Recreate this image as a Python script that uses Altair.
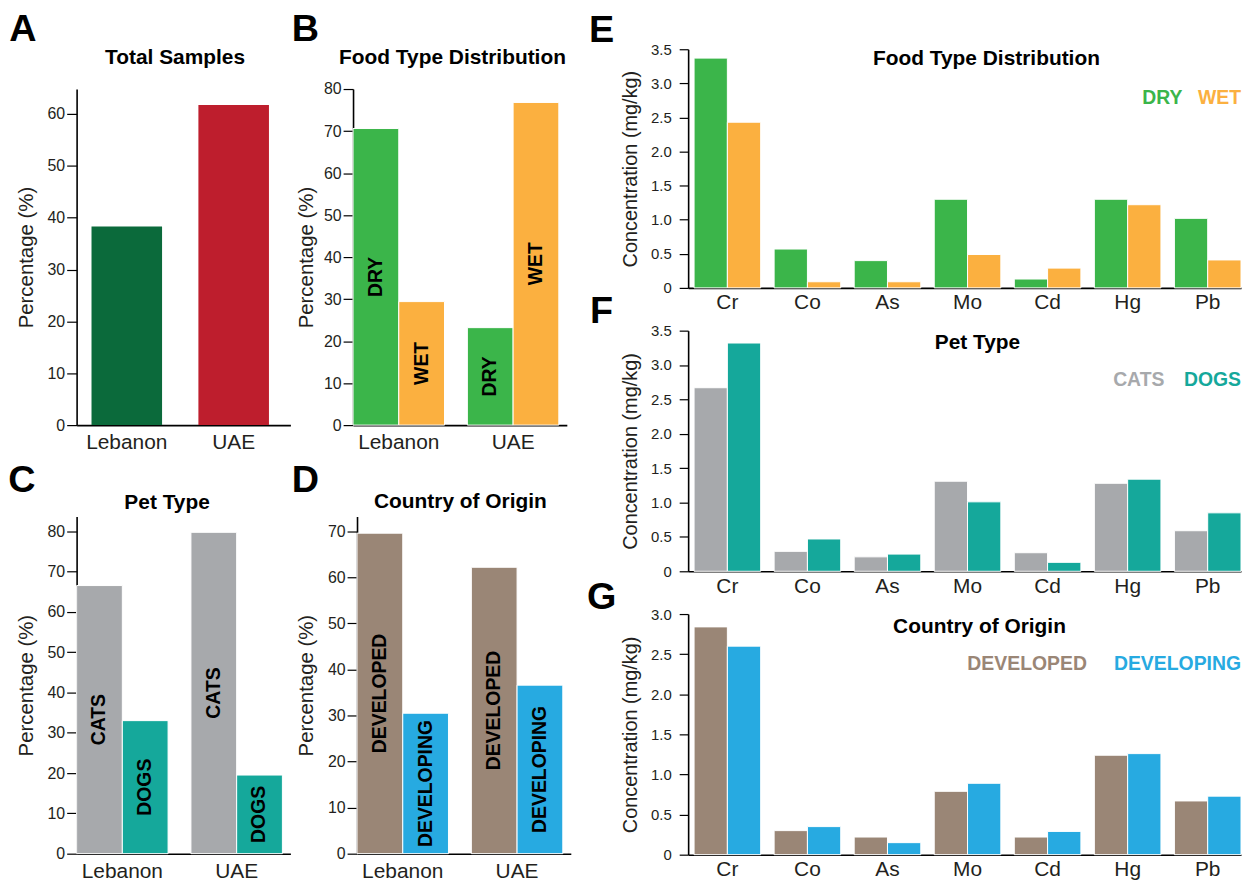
import altair as alt
import pandas as pd

FONT = "Liberation Sans, Arial, Helvetica, sans-serif"

# ---------------- data ----------------
countries = ["Lebanon", "UAE"]
total_pct = [38.3, 61.7]

food_types = ["DRY", "WET"]
food_lebanon = [70.6, 29.4]
food_uae = [23.2, 76.8]

pet_types = ["CATS", "DOGS"]
pet_lebanon = [66.5, 33.0]
pet_uae = [79.7, 19.5]

origin_types = ["DEVELOPED", "DEVELOPING"]
origin_lebanon = [69.6, 30.5]
origin_uae = [62.2, 36.6]

metals = ["Cr", "Co", "As", "Mo", "Cd", "Hg", "Pb"]
conc_dry = [3.37, 0.57, 0.40, 1.30, 0.13, 1.30, 1.02]
conc_wet = [2.43, 0.09, 0.09, 0.49, 0.29, 1.22, 0.41]
conc_cats = [2.67, 0.29, 0.21, 1.31, 0.27, 1.28, 0.59]
conc_dogs = [3.32, 0.47, 0.25, 1.01, 0.13, 1.34, 0.85]
conc_developed = [2.84, 0.30, 0.22, 0.79, 0.22, 1.24, 0.67]
conc_developing = [2.60, 0.35, 0.15, 0.89, 0.29, 1.26, 0.73]

country_colors = ["#0b6a3b", "#be1e2d"]
food_colors = ["#3bb54a", "#fbb040"]
pet_colors = ["#a7a9ac", "#15a89b"]
origin_colors = ["#9a8676", "#27aae1"]

TITLE_SIZE = 21
LETTER_SIZE = 38
INNER_SIZE = 19.5


def text_layer(txt, dx, dy, size, weight="bold", color="black", align="center"):
    return alt.Chart(pd.DataFrame({"t": [txt]})).mark_text(
        font=FONT, fontSize=size, fontWeight=weight, color=color,
        align=align, baseline="middle"
    ).encode(x=alt.value(dx), y=alt.value(dy), text="t:N")


def pct_xaxis():
    return alt.Axis(labelFontSize=21, labelPadding=7, ticks=False, labelAngle=0)


def pct_yaxis(values, title_pad):
    return alt.Axis(values=values, labelFontSize=16, tickSize=10, labelPadding=2,
                    titleFontSize=20.5, titlePadding=title_pad)


def panel_a():
    df = pd.DataFrame({"country": countries, "pct": total_pct})
    bars = alt.Chart(df).mark_bar().encode(
        x=alt.X("country:N", sort=countries, title=None, axis=pct_xaxis(),
                scale=alt.Scale(paddingInner=0.34, paddingOuter=0.17, align=0.41)),
        y=alt.Y("pct:Q", title="Percentage (%)",
                scale=alt.Scale(domain=[0, 64.8], nice=False),
                axis=pct_yaxis([0, 10, 20, 30, 40, 50, 60], 11)),
        color=alt.Color("country:N", scale=alt.Scale(domain=countries, range=country_colors), legend=None),
    )
    return alt.layer(
        bars,
        text_layer("Total Samples", 99, -31, TITLE_SIZE),
        text_layer("A", -54, -59, LETTER_SIZE),
    ).properties(width=215, height=338)


def panel_group(types, leb, uae, colors, title, letter, ymax, ticks, height,
                title_dx, title_dy, letter_dx, letter_dy, title_pad):
    df = pd.DataFrame({
        "country": [countries[0]] * 2 + [countries[1]] * 2,
        "type": types * 2,
        "pct": leb + uae,
    })
    df["half"] = df["pct"] / 2
    x = alt.X("country:N", sort=countries, title=None, axis=pct_xaxis(),
              scale=alt.Scale(paddingInner=0.2, paddingOuter=0.035, align=0))
    xo = alt.XOffset("type:N", sort=types)
    base = alt.Chart(df)
    bars = base.mark_bar(stroke="white", strokeWidth=1).encode(
        x=x, xOffset=xo,
        y=alt.Y("pct:Q", title="Percentage (%)",
                scale=alt.Scale(domain=[0, ymax], nice=False),
                axis=pct_yaxis(ticks, title_pad)),
        color=alt.Color("type:N", scale=alt.Scale(domain=types, range=colors), legend=None),
    )
    labels = base.mark_text(font=FONT, fontSize=INNER_SIZE, fontWeight="bold", color="black",
                            angle=270, align="center", baseline="middle").encode(
        x=x, xOffset=xo, y=alt.Y("half:Q"), text="type:N")
    return alt.layer(
        bars, labels,
        text_layer(title, title_dx, title_dy, TITLE_SIZE),
        text_layer(letter, letter_dx, letter_dy, LETTER_SIZE),
    ).properties(width=215, height=height)


def panel_metal(v1, v2, names, colors, title, letter, ymax, ticks, height,
                title_dx, title_dy, letter_dy, leg1_right, leg_dy):
    df = pd.DataFrame({
        "metal": metals * 2,
        "grp": [names[0]] * len(metals) + [names[1]] * len(metals),
        "val": v1 + v2,
    })
    bars = alt.Chart(df).mark_bar(stroke="white", strokeWidth=1).encode(
        x=alt.X("metal:N", sort=metals, title=None,
                axis=alt.Axis(labelFontSize=21, labelPadding=4, ticks=False, labelAngle=0),
                scale=alt.Scale(paddingInner=0.168, paddingOuter=0.037, align=1)),
        xOffset=alt.XOffset("grp:N", sort=names),
        y=alt.Y("val:Q", title="Concentration (mg/kg)",
                scale=alt.Scale(domain=[0, ymax], nice=False),
                axis=alt.Axis(values=ticks, tickSize=9, labelPadding=8, labelFontSize=15,
                              titleFontSize=20, titlePadding=10,
                              labelExpr="datum.value == 0 ? '0' : format(datum.value, '.1f')")),
        color=alt.Color("grp:N", scale=alt.Scale(domain=names, range=colors), legend=None),
    )
    return alt.layer(
        bars,
        text_layer(title, title_dx, title_dy, TITLE_SIZE),
        text_layer(letter, -87, letter_dy, LETTER_SIZE),
        text_layer(names[0], leg1_right, leg_dy, INNER_SIZE, color=colors[0], align="right"),
        text_layer(names[1], 556, leg_dy, INNER_SIZE, color=colors[1], align="right"),
    ).properties(width=556, height=height)


A = panel_a()
B = panel_group(food_types, food_lebanon, food_uae, food_colors, "Food Type Distribution", "B",
                80, [0, 10, 20, 30, 40, 50, 60, 70, 80], 338, 100, -31, -48, -59, 7)
C = panel_group(pet_types, pet_lebanon, pet_uae, pet_colors, "Pet Type", "C",
                83.6, [0, 10, 20, 30, 40, 50, 60, 70, 80], 339, 91, -14, -55, -36, 11)
D = panel_group(origin_types, origin_lebanon, origin_uae, origin_colors, "Country of Origin", "D",
                73.2, [0, 10, 20, 30, 40, 50, 60, 70], 339, 104, -15, -52, -36, 11)

E = panel_metal(conc_dry, conc_wet, food_types, food_colors, "Food Type Distribution", "E",
                3.5, [0, 0.5, 1, 1.5, 2, 2.5, 3, 3.5], 240, 300, 10, -18, 497, 49)
F = panel_metal(conc_cats, conc_dogs, pet_types, pet_colors, "Pet Type", "F",
                3.5, [0, 0.5, 1, 1.5, 2, 2.5, 3, 3.5], 242, 291, 12, -19, 479, 50)
G = panel_metal(conc_developed, conc_developing, origin_types, origin_colors, "Country of Origin", "G",
                3.0, [0, 0.5, 1, 1.5, 2, 2.5, 3], 242, 293, 13, -16, 401, 50)

# invisible 1x1 spacer that lifts the right-hand column relative to the left one
spacer = alt.Chart(pd.DataFrame({"s": [0]})).mark_point(opacity=0).encode(
    x=alt.value(0), y=alt.value(0)).properties(width=1, height=1)

IND = dict(color="independent", xOffset="independent")

row_ab = alt.hconcat(A, B, spacing=63, bounds="flush").resolve_scale(**IND)
row_cd = alt.hconcat(C, D, spacing=67, bounds="flush").resolve_scale(**IND)
left = alt.vconcat(row_ab, row_cd, spacing=430, bounds="flush").resolve_scale(**IND)
left_w = alt.vconcat(spacer, left, spacing=39, bounds="flush").resolve_scale(**IND)
right = alt.vconcat(E, F, G, spacing=43, bounds="flush").resolve_scale(**IND)

chart = alt.hconcat(left_w, right, spacing=615, bounds="flush").resolve_scale(**IND).properties(
    padding={"left": 0, "top": 1, "right": 0, "bottom": 0},
    background="white",
).configure_view(stroke=None).configure_axis(
    grid=False, domainColor="black", domainWidth=1.6, tickColor="black", tickWidth=1.2,
    labelColor="#231f20", titleColor="#231f20", labelFont=FONT, titleFont=FONT,
    titleFontWeight="normal",
)

chart.save("out.html", embed_options={"renderer": "svg", "actions": False})
